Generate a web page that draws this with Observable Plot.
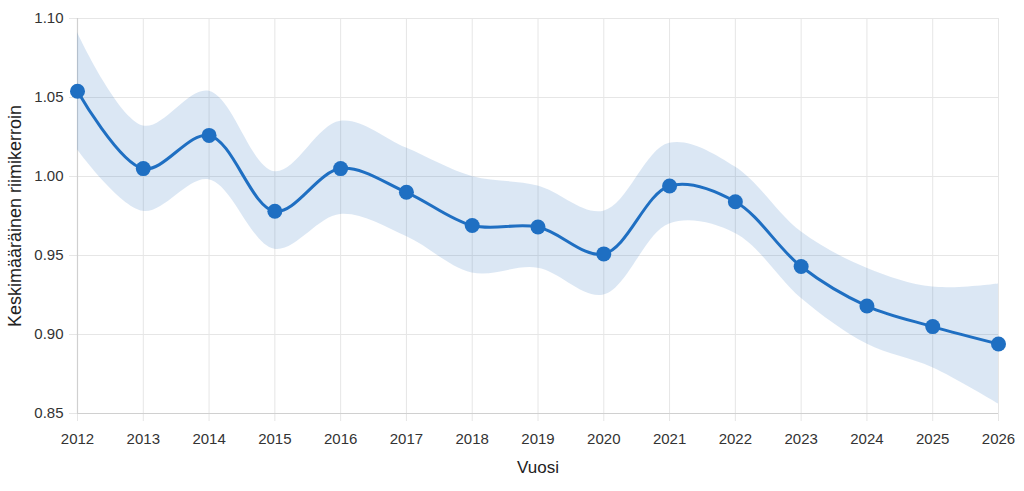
<!DOCTYPE html>
<html>
<head>
<meta charset="utf-8">
<script src="https://cdn.jsdelivr.net/npm/d3@7"></script>
<script src="https://cdn.jsdelivr.net/npm/@observablehq/plot@0.6"></script>
<style>
  html, body { margin: 0; padding: 0; background: #fff; }
  #chart { width: 1024px; height: 491px; }
</style>
</head>
<body>
<div id="chart"></div>
<script>
const years = [2012, 2013, 2014, 2015, 2016, 2017, 2018, 2019, 2020, 2021, 2022, 2023, 2024, 2025, 2026];
const meanValues = [1.054, 1.005, 1.026, 0.978, 1.005, 0.990, 0.969, 0.968, 0.951, 0.994, 0.984, 0.943, 0.918, 0.905, 0.894];
const upperValues = [1.091, 1.032, 1.054, 1.003, 1.035, 1.018, 1.000, 0.994, 0.978, 1.021, 1.006, 0.965, 0.942, 0.930, 0.932];
const lowerValues = [1.017, 0.978, 0.998, 0.954, 0.976, 0.962, 0.939, 0.942, 0.925, 0.970, 0.964, 0.923, 0.894, 0.879, 0.856];
const yTicks = [0.85, 0.90, 0.95, 1.00, 1.05, 1.10];
const xLabel = "Vuosi";
const yLabel = "Keskimääräinen riimikerroin";

const data = years.map((y, i) => ({year: y, mean: meanValues[i], upper: upperValues[i], lower: lowerValues[i]}));

const lineColor = "#1f6fc2";
const font = "'Liberation Sans', Arial, Helvetica, sans-serif";

const chart = Plot.plot({
  width: 1024,
  height: 491,
  marginLeft: 77,
  marginRight: 26,
  marginTop: 18,
  marginBottom: 78,
  style: {fontFamily: font, fontSize: "15px", color: "#333", background: "#fff"},
  x: {domain: [2012, 2026]},
  y: {domain: [0.85, 1.10]},
  marks: [
    Plot.gridX(years, {stroke: "#e6e6e6", strokeOpacity: 1, y1: 0.85, y2: 1.10}),
    Plot.gridY(yTicks, {stroke: "#e6e6e6", strokeOpacity: 1, x1: 2012, x2: 2026}),
    Plot.axisX(years, {tickSize: 8, stroke: "#e6e6e6", strokeOpacity: 1, tickPadding: 12, label: null, fill: "#333", fontSize: 15, tickFormat: d => String(d)}),
    Plot.axisY(yTicks, {tickSize: 8, stroke: "#e6e6e6", strokeOpacity: 1, tickPadding: 6, label: null, fill: "#333", fontSize: 15, tickFormat: d3.format(".2f")}),
    Plot.ruleY([0.85], {stroke: "#d0d0d0", strokeWidth: 1.2}),
    Plot.ruleX([2012], {stroke: "#d0d0d0", strokeWidth: 1.2}),
    Plot.areaY(data, {x: "year", y1: "lower", y2: "upper", fill: "#2a6ebb", fillOpacity: 0.17, curve: "catmull-rom"}),
    Plot.line(data, {x: "year", y: "mean", stroke: lineColor, strokeWidth: 3, curve: "catmull-rom"}),
    Plot.dot(data, {x: "year", y: "mean", r: 7.5, fill: lineColor, stroke: "none"}),
    Plot.text([yLabel], {frameAnchor: "left", textAnchor: "middle", rotate: -90, dx: -62, fontSize: 18, fill: "#222", text: d => d}),
    Plot.text([xLabel], {frameAnchor: "bottom", textAnchor: "middle", dy: 59, fontSize: 17, fill: "#222", text: d => d})
  ]
});
document.getElementById("chart").appendChild(chart);
</script>
</body>
</html>
